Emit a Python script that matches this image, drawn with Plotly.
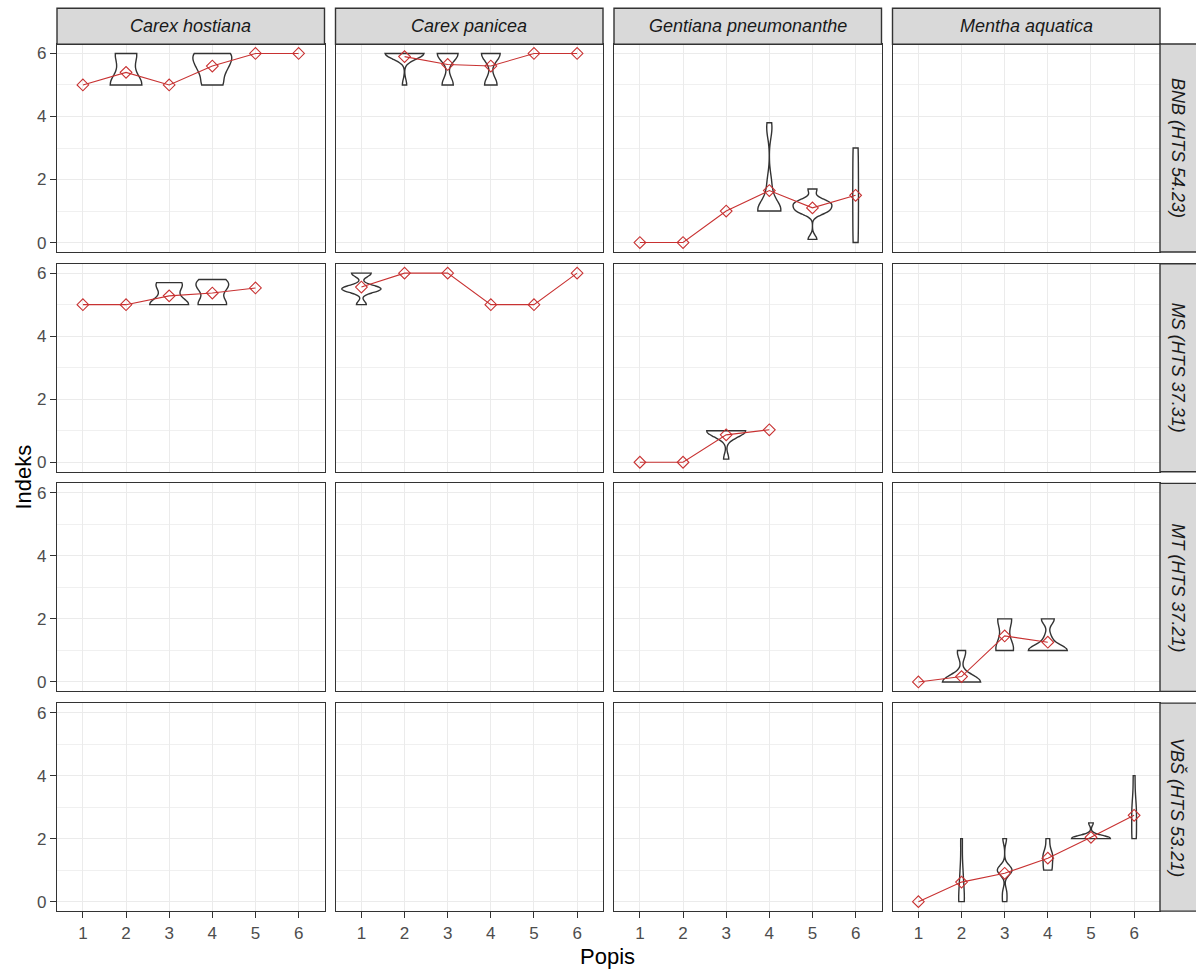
import numpy as np
import plotly.graph_objects as go

# ---------------- data ----------------
pops = [1, 2, 3, 4, 5, 6]
tick_labels = ["1", "2", "3", "4", "5", "6"]
species = ["Carex hostiana", "Carex panicea", "Gentiana pneumonanthe", "Mentha aquatica"]
habitats = ["BNB (HTS 54.23)", "MS (HTS 37.31)", "MT (HTS 37.21)", "VBŠ (HTS 53.21)"]

# mean index per population (red line with diamonds)
mean_bnb_hostiana = [5.0, 5.4, 5.0, 5.6, 6.0, 6.0]
mean_bnb_panicea = [None, 5.9, 5.65, 5.6, 6.0, 6.0]
mean_bnb_gentiana = [0.0, 0.0, 1.0, 1.65, 1.1, 1.5]
mean_ms_hostiana = [5.0, 5.0, 5.28, 5.37, 5.53, None]
mean_ms_panicea = [5.56, 6.0, 6.0, 5.0, 5.0, 6.0]
mean_ms_gentiana = [0.0, 0.0, 0.87, 1.03, None, None]
mean_mt_mentha = [0.0, 0.17, 1.46, 1.26, None, None]
mean_vbs_mentha = [0.0, 0.62, 0.9, 1.38, 2.04, 2.74]

# individual index values per population (violins), estimated from shapes
samples_bnb_hostiana = {2: [5, 5, 5, 6, 6], 4: [5, 5, 5.5, 5.5, 5.75, 6, 6, 6]}
samples_bnb_panicea = {2: [6, 6, 6, 6, 6, 6, 6, 6, 6, 5],
                       3: [6] * 13 + [5] * 7,
                       4: [6] * 12 + [5] * 8}
samples_bnb_gentiana = {4: [1, 1, 1, 1, 1, 1, 1, 1.3, 1.6, 2, 3.5, 3.8],
                        5: [0.1, 1, 1, 1, 1.2, 1.2, 1.3, 1.3, 1.7],
                        6: [0, 1.5, 3]}
samples_ms_hostiana = {3: [5, 5, 5, 5, 5.5, 5.7, 5.7], 4: [5, 5, 5, 5.5, 5.6, 5.7, 5.8]}
samples_ms_panicea = {1: [5, 5.5, 5.5, 5.5, 5.5, 6, 6]}
samples_ms_gentiana = {3: [0.1, 0.8, 1, 1, 1, 1, 1, 1, 1]}
samples_mt_mentha = {2: [0, 0, 0, 0, 0, 0, 0, 0, 0, 1, 0.9],
                     3: [1, 1, 1, 2, 2, 2, 1.2],
                     4: [1, 1, 1, 1, 1, 1, 1.4, 2, 2]}
samples_vbs_mentha = {2: [0, 0, 0, 0.6, 1, 2], 3: [0, 0.3, 1, 1, 1, 1, 2], 4: [1, 1, 1.3, 1.5, 1.5, 2],
                      5: [2, 2, 2, 2, 2, 2, 2, 2, 2.1, 2.5], 6: [2, 2, 2.5, 3, 3, 4]}

# (row, col) -> (means, samples)
panels = {
    (0, 0): (mean_bnb_hostiana, samples_bnb_hostiana),
    (0, 1): (mean_bnb_panicea, samples_bnb_panicea),
    (0, 2): (mean_bnb_gentiana, samples_bnb_gentiana),
    (1, 0): (mean_ms_hostiana, samples_ms_hostiana),
    (1, 1): (mean_ms_panicea, samples_ms_panicea),
    (1, 2): (mean_ms_gentiana, samples_ms_gentiana),
    (2, 3): (mean_mt_mentha, samples_mt_mentha),
    (3, 3): (mean_vbs_mentha, samples_vbs_mentha),
}

# ---------------- layout geometry ----------------
W, H = 1196, 970
PX_L, PW, GAP = 57.0, 267.5, 11.0
PY_T, PH, RP = 44.0, 208.0, 219.7
FONT = "Liberation Sans, Arial, sans-serif"
RED = "#C83232"
DARK = "#333333"
VIOLIN_WIDTH = 0.9


def nrd0(v):
    """R's default bandwidth (as used by ggplot2 violins)."""
    v = np.asarray(v, float)
    hi = v.std(ddof=1)
    iqr = np.percentile(v, 75) - np.percentile(v, 25)
    lo = min(hi, iqr / 1.34)
    if not lo:
        lo = hi or abs(v[0]) or 1.0
    return 0.9 * lo * len(v) ** -0.2


def max_kde(v, bw):
    """Peak of the trimmed gaussian KDE on the same grid plotly uses."""
    v = np.asarray(v, float)
    lo, hi = v.min(), v.max()
    n = int(np.ceil((hi - lo) / (bw / 3.0)))
    t = np.linspace(lo, hi, n + 1)
    d = np.exp(-0.5 * ((t[:, None] - v[None, :]) / bw) ** 2).sum(1)
    return (d / (np.sqrt(2 * np.pi) * len(v) * bw)).max()


def xdom(c):
    x0 = PX_L + c * (PW + GAP)
    return [x0 / W, (x0 + PW) / W]


def ydom(r):
    y0 = PY_T + r * RP
    return [1 - (y0 + PH) / H, 1 - y0 / H]


fig = go.Figure()
layout = dict(
    width=W, height=H, margin=dict(l=0, r=0, t=0, b=0),
    paper_bgcolor="white", plot_bgcolor="white",
    showlegend=False, violinmode="overlay",
    font=dict(family=FONT),
)

shapes, annotations = [], []

for r in range(4):
    for c in range(4):
        k = r * 4 + c + 1
        sx = "" if k == 1 else str(k)
        layout["xaxis" + sx] = dict(
            domain=xdom(c), anchor="y" + sx, range=[0.4, 6.6],
            tickvals=pops, ticktext=tick_labels,
            showgrid=True, gridcolor="#EBEBEB", gridwidth=1, zeroline=False,
            showline=True, mirror=True, linecolor=DARK, linewidth=1.4,
            ticks="outside" if r == 3 else "", ticklen=6, tickwidth=1.2, tickcolor=DARK,
            showticklabels=(r == 3), tickfont=dict(size=17, color="#4D4D4D", family=FONT),
            fixedrange=True,
        )
        layout["yaxis" + sx] = dict(
            domain=ydom(r), anchor="x" + sx, range=[-0.3, 6.3],
            tickvals=[0, 2, 4, 6], ticktext=["0", "2", "4", "6"],
            showgrid=True, gridcolor="#EBEBEB", gridwidth=1, zeroline=False,
            minor=dict(tickvals=[1, 3, 5], showgrid=True, gridcolor="#F0F0F0", gridwidth=0.7, ticks=""),
            showline=True, mirror=True, linecolor=DARK, linewidth=1.4,
            ticks="outside" if c == 0 else "", ticklen=6, tickwidth=1.2, tickcolor=DARK,
            showticklabels=(c == 0), tickfont=dict(size=17, color="#4D4D4D", family=FONT),
            fixedrange=True,
        )
        # empty trace so that every panel (also the empty ones) is drawn
        fig.add_trace(go.Scatter(x=[], y=[], xaxis="x" + sx, yaxis="y" + sx,
                                 mode="markers", showlegend=False, hoverinfo="skip"))
        if (r, c) in panels:
            means, samples = panels[(r, c)]
            bws = {p: nrd0(v) for p, v in samples.items()}
            peaks = {p: max_kde(v, bws[p]) for p, v in samples.items()}
            top = max(peaks.values())
            for p, vals in samples.items():
                fig.add_trace(go.Violin(
                    x=[p] * len(vals), y=vals, xaxis="x" + sx, yaxis="y" + sx,
                    width=VIOLIN_WIDTH * peaks[p] / top,  # ggplot scale="area"
                    spanmode="hard", bandwidth=bws[p],
                    fillcolor="white", line=dict(color=DARK, width=1.4),
                    points=False, box_visible=False, meanline_visible=False,
                    hoverinfo="skip", showlegend=False,
                ))
            fig.add_trace(go.Scatter(
                x=pops, y=means, xaxis="x" + sx, yaxis="y" + sx,
                mode="lines+markers", connectgaps=False,
                line=dict(color=RED, width=1.1),
                marker=dict(symbol="diamond-open", size=9, color=RED, line=dict(width=1.1, color=RED)),
                hoverinfo="skip", showlegend=False,
            ))

# column strips
for c, name in enumerate(species):
    d = xdom(c)
    shapes.append(dict(type="rect", xref="paper", yref="paper", x0=d[0], x1=d[1],
                       y0=1 - 44.3 / H, y1=1 - 8.3 / H, fillcolor="#D9D9D9",
                       line=dict(color=DARK, width=1.4), layer="above"))
    annotations.append(dict(text="<i>%s</i>" % name, x=(d[0] + d[1]) / 2, y=1 - 26.3 / H,
                            xref="paper", yref="paper", showarrow=False,
                            xanchor="center", yanchor="middle",
                            font=dict(size=18, color="#1A1A1A", family=FONT)))

# row strips
for r, name in enumerate(habitats):
    d = ydom(r)
    shapes.append(dict(type="rect", xref="paper", yref="paper", x0=1160 / W, x1=1.01,
                       y0=d[0], y1=d[1], fillcolor="#D9D9D9",
                       line=dict(color=DARK, width=1.4), layer="above"))
    annotations.append(dict(text="<i>%s</i>" % name, x=1178 / W, y=(d[0] + d[1]) / 2,
                            xref="paper", yref="paper", showarrow=False, textangle=90,
                            xanchor="center", yanchor="middle",
                            font=dict(size=18, color="#1A1A1A", family=FONT)))

# axis titles
annotations.append(dict(text="Popis", x=607.5 / W, y=1 - 956 / H, xref="paper", yref="paper",
                        showarrow=False, xanchor="center", yanchor="middle",
                        font=dict(size=22, color="black", family=FONT)))
annotations.append(dict(text="Indeks", x=23 / W, y=1 - 477.5 / H, xref="paper", yref="paper",
                        showarrow=False, textangle=-90, xanchor="center", yanchor="middle",
                        font=dict(size=22, color="black", family=FONT)))

layout["shapes"] = shapes
layout["annotations"] = annotations
fig.update_layout(**layout)
fig.write_html("out.html")
